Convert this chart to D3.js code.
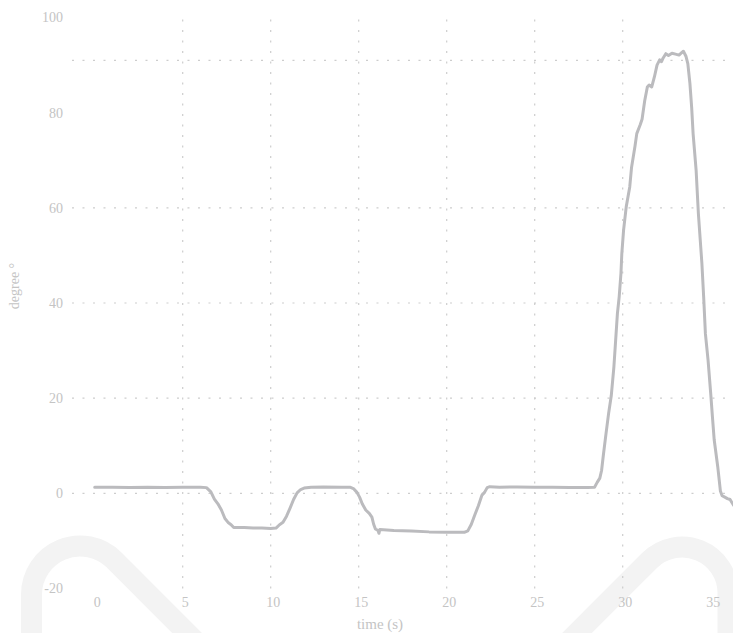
<!DOCTYPE html>
<html>
<head>
<meta charset="utf-8">
<script src="https://cdn.jsdelivr.net/npm/d3@7"></script>
<style>
  body { margin: 0; background: #fff; }
  svg { display: block; }
  .tick text, .axisText { font-family: "Liberation Serif", "DejaVu Serif", serif; fill: #c4c4c4; }
</style>
</head>
<body>
<div id="chart"></div>
<script>
// time (s)
var timeVals = [0, 1, 2, 3, 4, 5, 6, 6.35, 6.6, 6.8, 7.0, 7.2, 7.4, 7.6, 7.75, 7.9, 8.5, 9, 9.5, 10.0,
  10.3, 10.5, 10.7, 10.9, 11.1, 11.3, 11.5, 11.7, 11.9, 12.3, 13, 14, 14.5, 14.7, 14.9, 15.05, 15.2, 15.4,
  15.6, 15.75, 15.85, 15.95, 16.1, 16.15, 16.2, 17, 18, 19, 20, 21, 21.2, 21.4, 21.6, 21.8, 22.0, 22.15,
  22.3, 22.45, 23, 24, 25, 26, 27, 28, 28.4, 28.55, 28.7, 28.8, 28.9, 29.05, 29.2, 29.35, 29.5, 29.6,
  29.7, 29.8, 29.9, 29.95, 30.05, 30.2, 30.4, 30.5, 30.7, 30.8, 31.0, 31.1, 31.25, 31.4, 31.5, 31.65,
  31.8, 31.95, 32.1, 32.2, 32.3, 32.45, 32.6, 32.8, 33.0, 33.2, 33.35, 33.45, 33.6, 33.7, 33.82, 33.92,
  34.0, 34.17, 34.3, 34.5, 34.6, 34.7, 34.85, 35.0, 35.1, 35.2, 35.4, 35.55, 35.65, 35.8, 35.95, 36.1, 36.3];
// degree
var degreeVals = [1.3, 1.3, 1.25, 1.3, 1.25, 1.3, 1.3, 1.2, 0.3, -1.2, -2.2, -3.5, -5.3, -6.2, -6.6, -7.2, -7.2, -7.3, -7.3, -7.4,
  -7.3, -6.6, -6.1, -4.8, -3.1, -1.3, 0.1, 0.8, 1.1, 1.3, 1.35, 1.3, 1.3, 1.0, 0.2, -0.8, -2.2, -3.5,
  -4.2, -5.0, -6.5, -7.5, -7.8, -8.4, -7.6, -7.8, -7.9, -8.1, -8.2, -8.2, -7.9, -6.5, -4.5, -2.6, -0.4, 0.2,
  1.2, 1.4, 1.3, 1.35, 1.3, 1.3, 1.25, 1.25, 1.3, 2.3, 3.2, 4.8, 8.0, 12.5, 16.8, 20.5, 26.6, 32.2,
  37.8, 41.3, 46.2, 50.4, 55.3, 60.2, 64.4, 68.4, 73, 75.6, 77.5, 78.6, 82.5, 85.4, 85.8, 85.4,
  87.5, 90, 91.1, 90.7, 91.5, 92.4, 92.0, 92.5, 92.3, 92.1, 92.6, 92.9, 91.8, 90.3, 86.1, 81,
  75.6, 68, 58.8, 48.3, 41.3, 33.5, 28, 21, 16, 11.2, 5.6, 0.5, -0.5, -0.8, -1.1, -1.3, -2.5];

var xTicks = [0, 5, 10, 15, 20, 25, 30, 35];
var yTicks = [-20, 0, 20, 40, 60, 80, 100];
var xGrid = [5, 10, 15, 20, 25, 30];
var yGrid = [0, 20, 40, 60, 91];

var svgWidth = 733, svgHeight = 633;

var svg = d3.select("#chart")
  .append("svg")
  .attr("width", svgWidth)
  .attr("height", svgHeight);

var xScale = d3.scaleLinear().domain([0, 35]).range([94.7, 710.7]);
var yScale = d3.scaleLinear().domain([-20, 100]).range([588.5, 17.5]);

// faint background logo strokes
var deco = svg.append("g")
  .attr("fill", "none")
  .attr("stroke", "#f3f3f3")
  .attr("stroke-width", 21);
deco.append("path").attr("d", "M31.5,660 V594.5 A48.5,48.5 0 0 1 114.3,560.2 L205,651");
deco.append("path").attr("d", "M728,660 V593 A46,46 0 0 0 649.5,560.5 L560,650");

// grid lines
var grid = svg.append("g")
  .attr("stroke", "#cdcdcd")
  .attr("stroke-width", 1.2)
  .attr("stroke-dasharray", "2,8.5");

grid.selectAll(".hgrid")
  .data(yGrid)
  .enter()
  .append("line")
  .attr("x1", xScale(-1.29))
  .attr("x2", svgWidth)
  .attr("y1", d => yScale(d))
  .attr("y2", d => yScale(d));

grid.selectAll(".vgrid")
  .data(xGrid)
  .enter()
  .append("line")
  .attr("x1", d => xScale(d))
  .attr("x2", d => xScale(d))
  .attr("y1", yScale(100) + 2)
  .attr("y2", yScale(-20));

// axes (labels only)
var bottomAxis = d3.axisBottom(xScale).tickValues(xTicks).tickSize(0).tickFormat(d3.format("d"));
var leftAxis = d3.axisLeft(yScale).tickValues(yTicks).tickSize(0).tickFormat(d => String(d));

var xAxisG = svg.append("g")
  .attr("transform", "translate(2, 594)")
  .attr("color", "#c4c4c4")
  .call(bottomAxis);
xAxisG.select(".domain").remove();
xAxisG.selectAll("text").attr("font-size", "14px").attr("dy", "0.71em");

var yAxisG = svg.append("g")
  .attr("transform", "translate(66, 0)")
  .attr("color", "#c4c4c4")
  .call(leftAxis);
yAxisG.select(".domain").remove();
yAxisG.selectAll("text").attr("font-size", "14px");

// axis titles
svg.append("text")
  .attr("class", "axisText")
  .attr("x", 380)
  .attr("y", 629)
  .attr("font-size", "15px")
  .style("text-anchor", "middle")
  .text("time (s)");

svg.append("text")
  .attr("class", "axisText")
  .attr("transform", "translate(19, 286) rotate(-90)")
  .attr("font-size", "14px")
  .style("text-anchor", "middle")
  .text("degree °");

// the line
var lineData = timeVals.map((t, i) => ({ t: t, v: degreeVals[i] }));
var line = d3.line()
  .x(d => xScale(d.t))
  .y(d => yScale(d.v));

svg.append("path")
  .datum(lineData)
  .attr("fill", "none")
  .attr("stroke", "#bbbbbe")
  .attr("stroke-width", 3)
  .attr("stroke-linejoin", "round")
  .attr("stroke-linecap", "round")
  .attr("d", line);
</script>
</body>
</html>
